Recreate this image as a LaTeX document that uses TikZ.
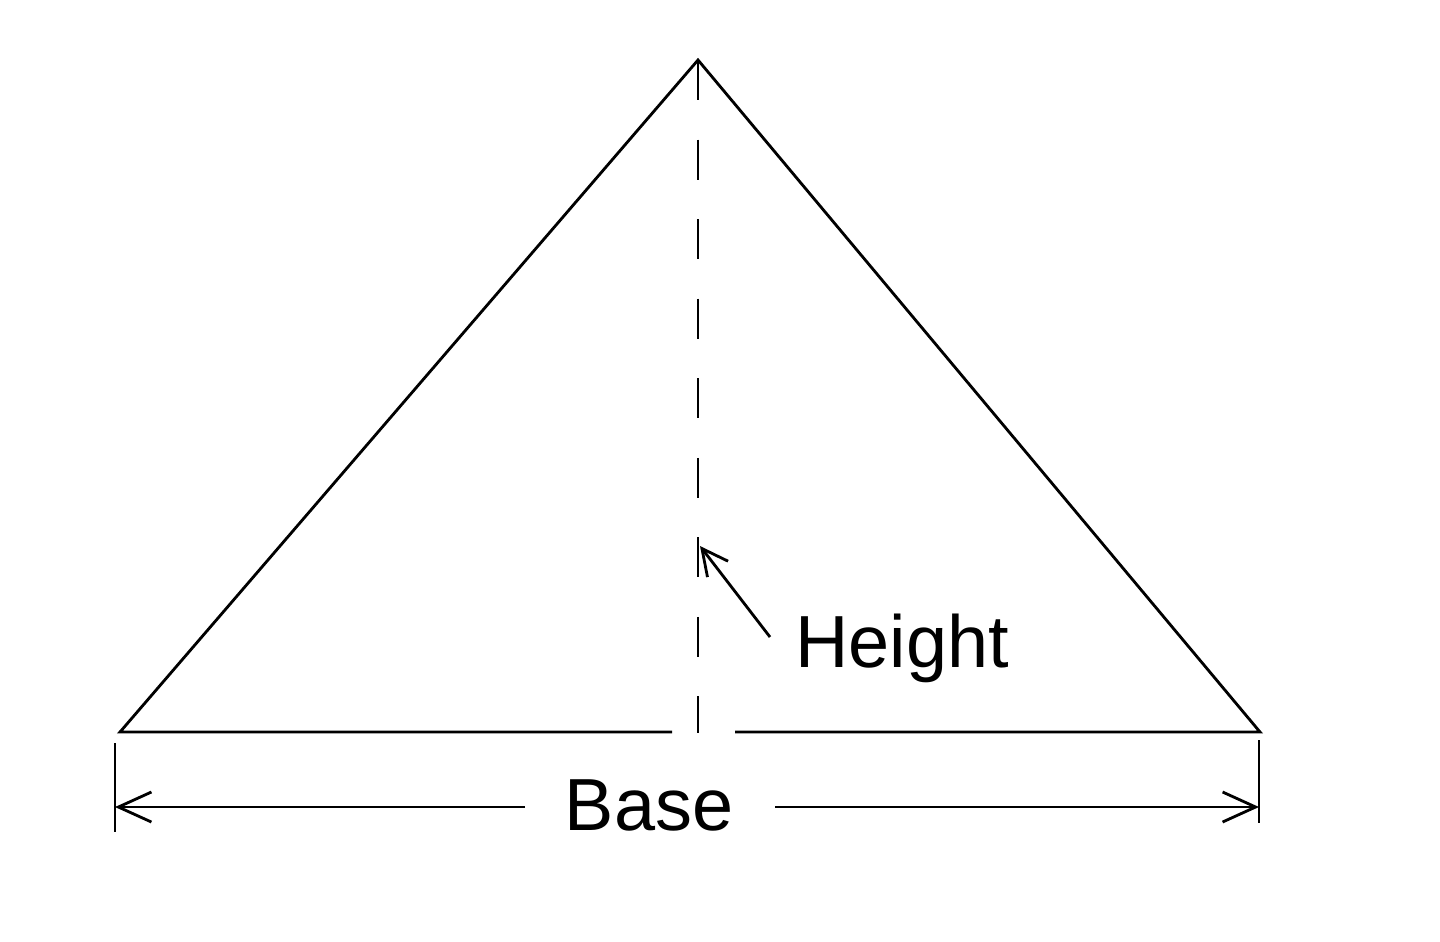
\documentclass[tikz,border=0pt]{standalone}
\usepackage{fontspec}
\setmainfont{Liberation Sans}
\usetikzlibrary{arrows.meta,positioning}

\begin{document}
\begin{tikzpicture}[x=0.01cm,y=-0.01cm,line width=0.8pt,
    dimarrow/.style={-{Straight Barb[length=3.3mm,width=3mm]}},
    lbl/.style={font=\fontsize{21}{25}\selectfont,inner sep=0pt}]
  \useasboundingbox (0,0) rectangle (1440,941);
  %triangle
  \coordinate (apex) at (698,60);
  \coordinate (bl) at (120,732);
  \coordinate (br) at (1260,732);
  \coordinate (foot) at (698,733);
  \coordinate (gapl) at (672,732);
  \coordinate (gapr) at (735,732);
  \draw (gapl) -- (bl) -- (apex) -- (br) -- (gapr);
  \draw[dash pattern=on 0.4cm off 0.395cm] (apex) -- (foot);
  %height
  \node[lbl,anchor=base west] (height) at (794,667) {Height};
  \coordinate (htail) at (770,637);
  \coordinate (htip) at (700,546);
  \draw[-{Straight Barb[length=2.6mm,width=2.6mm]}] (htail) -- (htip);
  %base dimension
  \coordinate (tl1) at (115,743);
  \coordinate (tl2) at (115,832);
  \coordinate (tr1) at (1259,740);
  \coordinate (tr2) at (1259,823);
  \draw (tl1) -- (tl2);
  \draw (tr1) -- (tr2);
  \coordinate (dl) at (115,807);
  \coordinate (dr) at (1259,807);
  \node[lbl,anchor=base] (base) at (649,830) {Base};
  \coordinate (gapbl) at (525,807);
  \coordinate (gapbr) at (775,807);
  \draw[dimarrow] (gapbl) -- (dl);
  \draw[dimarrow] (gapbr) -- (dr);
\end{tikzpicture}
\end{document}
